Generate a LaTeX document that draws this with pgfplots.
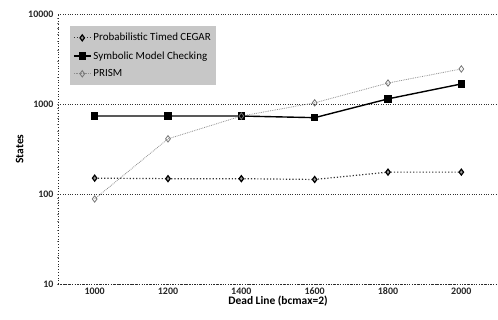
\documentclass[border=0pt]{standalone}
\usepackage{pgfplots}
\pgfplotsset{compat=1.18}
\usepackage{fontspec}
\setmainfont{Carlito}
\begin{document}
\begin{tikzpicture}
\path[use as bounding box] (-58bp,-36bp) rectangle (440bp,284bp);
\begin{axis}[
  scale only axis,
  width=440bp, height=270bp,
  xmin=900, xmax=2100,
  ymode=log, ymin=10, ymax=10000,
  xtick={1000,1200,1400,1600,1800,2000},
  xticklabels={1000,1200,1400,1600,1800,2000},
  ytick={10,100,1000,10000},
  yticklabels={10,100,1000,10000},
  tick label style={font=\bfseries\fontsize{10}{11}\selectfont, text=black!85},
  yticklabel style={xshift=-1bp},
  axis lines=left,
  axis line style={dotted, black!85, thick, -},
  major tick length=0pt, minor tick length=2pt,
  ymajorgrids, grid style={dotted, black!80, thick},
  xlabel={\bfseries Dead Line (bcmax=2)},
  ylabel={\bfseries States},
  label style={font=\bfseries\fontsize{11.5}{13}\selectfont},
  xlabel style={yshift=5bp},
  ylabel style={yshift=-2bp},
  legend style={at={(0.027,0.955)}, anchor=north west, fill=black!22, draw=none,
    font=\fontsize{11}{13}\selectfont, row sep=5bp, inner xsep=3pt, inner ysep=5pt},
  legend cell align=left,
  clip=false,
]
\addplot[black!80, dotted, very thick, mark=diamond*, mark options={solid, fill=black!40, draw=black}, mark size=3]
  coordinates {(1000,150) (1200,148) (1400,148) (1600,145) (1800,175) (2000,175)};
\addlegendentry{Probabilistic Timed CEGAR}
\addplot[black, line width=1.4pt, mark=square*, mark options={solid, fill=black}, mark size=3]
  coordinates {(1000,735) (1200,735) (1400,735) (1600,705) (1800,1140) (2000,1670)};
\addlegendentry{Symbolic Model Checking}
\addplot[black!45, densely dotted, thick, mark=diamond, mark options={solid, black!55, thick}, mark size=3.2]
  coordinates {(1000,88) (1200,410) (1400,735) (1600,1030) (1800,1710) (2000,2450)};
\addlegendentry{PRISM}
\end{axis}
\end{tikzpicture}
\end{document}
